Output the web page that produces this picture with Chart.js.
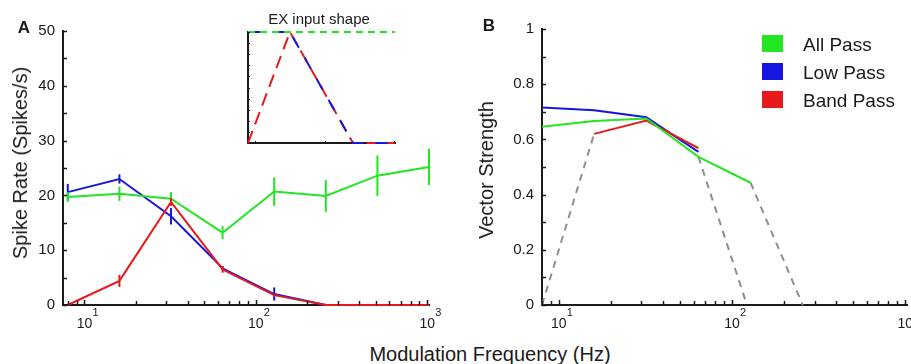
<!DOCTYPE html>
<html>
<head>
<meta charset="utf-8">
<script src="https://cdn.jsdelivr.net/npm/chart.js@4.4.1/dist/chart.umd.min.js"></script>
<style>
  body { margin: 0; width: 911px; height: 364px; background: #fff; position: relative; overflow: hidden;
         font-family: "Liberation Sans", Arial, sans-serif; color: #1a1a1a; }
  canvas { position: absolute; }
  .t { position: absolute; white-space: nowrap; line-height: 1; transform: translate(-50%, -50%); }
  .box { position: absolute; width: 21px; height: 17px; }
  .lg { position: absolute; font-size: 19px; line-height: 1; transform: translateY(-50%); white-space: nowrap; }
</style>
</head>
<body>
<canvas id="chartA" width="460" height="340" style="left:0;top:0"></canvas>
<canvas id="chartB" width="451" height="340" style="left:460px;top:0"></canvas>
<canvas id="inset" width="170" height="135" style="left:236px;top:20px"></canvas>

<div class="t" style="left:24px;top:27px;font-size:17px;font-weight:bold">A</div>
<div class="t" style="left:489px;top:25px;font-size:17px;font-weight:bold">B</div>
<div class="t" style="left:319px;top:18px;font-size:15px">EX input shape</div>
<div class="t" style="left:20px;top:163px;font-size:20px;transform:translate(-50%,-50%) rotate(-90deg)">Spike Rate (Spikes/s)</div>
<div class="t" style="left:486px;top:170px;font-size:20px;transform:translate(-50%,-50%) rotate(-90deg)">Vector Strength</div>
<div class="t" style="left:490px;top:354px;font-size:20px">Modulation Frequency (Hz)</div>

<div class="box" style="left:762px;top:35px;background:#22e622"></div>
<div class="lg" style="left:803px;top:44px">All Pass</div>
<div class="box" style="left:762px;top:63px;background:#1616e0"></div>
<div class="lg" style="left:803px;top:72px">Low Pass</div>
<div class="box" style="left:762px;top:91px;background:#e61a1a"></div>
<div class="lg" style="left:803px;top:100px">Band Pass</div>

<script>
// modulation frequencies (Hz)
const freqs = [8, 16, 32, 64, 128, 256, 512, 1024];

// panel A: spike rate (spikes/s) and half error bar
const rateAll  = [19.7, 20.3, 19.4, 13.2, 20.7, 19.9, 23.6, 25.2];
const errAll   = [0.9, 1.3, 1.2, 1.2, 2.6, 2.9, 3.7, 3.3];
const rateLow  = [20.6, 23.0, 16.2, 6.7, 2.0, 0, 0, 0];
const errLow   = [1.5, 0.85, 1.5, 0.4, 1.2, 0, 0, 0];
const rateBand = [0, 4.4, 18.8, 6.5, 1.8, 0, 0, 0];
const errBand  = [0, 1.1, 0.7, 0.6, 0.3, 0, 0, 0];

// panel B: vector strength
const vsAll  = [0.646, 0.667, 0.676, 0.537, 0.443, null, null, null];
const vsLow  = [0.716, 0.706, 0.680, 0.555, null, null, null, null];
const vsBand = [null, 0.620, 0.668, 0.568, null, null, null, null];
// grey dashed drops to zero
const dropFreq = [[8, 16], [64, 122], [128, 256]];
const dropVS   = [[0, 0.620], [0.537, 0], [0.443, 0]];

// inset: EX input shape
const insetFreq = [8, 32, 256, 1024];
const insetAll  = [1, 1, 1, 1];
const insetLow  = [1, 1, 0, 0];
const insetBand = [0, 1, 0, 0];

const decadeTicks = [10, 100, 1000];
const decadeExps = ['1', '2', '3'];

const GREEN = '#22e622', BLUE = '#1616e0', RED = '#e61a1a', GREY = '#8e8e8e', INK = '#1a1a1a';
const FONT = '"Liberation Sans", Arial, sans-serif';

function pts(xs, ys) {
  return xs.map((x, i) => ({ x: x, y: ys[i] }));
}

// matlab style inward ticks, error bars and 10^n labels
const axisMarks = {
  id: 'axisMarks',
  afterDatasetDraw(chart, args) {
    const ds = chart.data.datasets[args.index];
    if (!ds.errors) return;
    const ctx = chart.ctx, y = chart.scales.y;
    ctx.save();
    ctx.strokeStyle = ds.borderColor;
    ctx.lineWidth = 2;
    args.meta.data.forEach((el, i) => {
      const v = ds.data[i].y, e = ds.errors[i];
      if (v == null || !e) return;
      ctx.beginPath();
      ctx.moveTo(el.x, y.getPixelForValue(v - e));
      ctx.lineTo(el.x, y.getPixelForValue(v + e));
      ctx.stroke();
    });
    ctx.restore();
  },
  afterDraw(chart, args, opts) {
    const { ctx, chartArea: a, scales: { x, y } } = chart;
    ctx.save();
    ctx.strokeStyle = INK;
    ctx.lineWidth = opts.tickWidth;
    ctx.beginPath();
    for (let d = 1; d <= 1000; d *= 10) {
      for (let m = 1; m < 10; m++) {
        const v = d * m;
        if (v < x.min || v > x.max) continue;
        if (m > 1 && !opts.xMinor) continue;
        const px = Math.round(x.getPixelForValue(v)) + 0.5;
        const len = m === 1 ? opts.xMajorLen : opts.xMinorLen;
        ctx.moveTo(px, a.bottom);
        ctx.lineTo(px, a.bottom - len);
      }
    }
    for (let v = y.min; v <= y.max + 1e-9; v += opts.yStep) {
      const py = Math.round(y.getPixelForValue(v)) + 0.5;
      ctx.moveTo(a.left, py);
      ctx.lineTo(a.left + opts.yLen, py);
    }
    ctx.stroke();
    if (opts.labels) {
      ctx.fillStyle = INK;
      ctx.textBaseline = 'middle';
      decadeTicks.forEach((v, i) => {
        const px = x.getPixelForValue(v);
        ctx.font = '14px ' + FONT;
        ctx.textAlign = 'center';
        ctx.fillText('10', px, a.bottom + 19);
        ctx.font = '11px ' + FONT;
        ctx.textAlign = 'left';
        ctx.fillText(decadeExps[i], px + 8, a.bottom + 8);
      });
    }
    ctx.restore();
  }
};

function line(data, color, extra) {
  return Object.assign({
    data: data, borderColor: color, backgroundColor: color, borderWidth: 2,
    pointRadius: 0, tension: 0, spanGaps: false, clip: false
  }, extra || {});
}

function axes(xMin, yMax, yStep, yWidth, xHeight, showY, fmt) {
  return {
    x: {
      type: 'logarithmic', min: xMin, max: 1024,
      ticks: { display: false },
      grid: { display: false, drawTicks: false },
      border: { display: true, color: INK, width: 2 },
      afterFit: s => { s.height = xHeight; }
    },
    y: {
      min: 0, max: yMax,
      ticks: { display: showY, stepSize: yStep, padding: 8, color: INK, font: { family: FONT, size: 15 },
               callback: fmt || (v => v) },
      grid: { display: false, drawTicks: false },
      border: { display: true, color: INK, width: 2 },
      afterFit: s => { s.width = yWidth; }
    }
  };
}

const base = {
  responsive: false, animation: false, events: [],
  plugins: { legend: { display: false }, tooltip: { enabled: false } }
};

// panel A
new Chart(document.getElementById('chartA'), {
  type: 'line',
  data: {
    datasets: [
      line(pts(freqs, rateBand), RED, { errors: errBand }),
      line(pts(freqs, rateAll), GREEN, { errors: errAll }),
      line(pts(freqs, rateLow), BLUE, { errors: errLow })
    ]
  },
  options: Object.assign({}, base, {
    layout: { padding: { left: 0, top: 31, right: 31, bottom: 0 } },
    plugins: Object.assign({}, base.plugins, {
      axisMarks: { tickWidth: 1.5, xMinor: true, xMajorLen: 5, xMinorLen: 4, yStep: 5, yLen: 4, labels: true }
    }),
    scales: axes(7.5, 50, 10, 63, 35, true)
  }),
  plugins: [axisMarks]
});

// panel B
new Chart(document.getElementById('chartB'), {
  type: 'line',
  data: {
    datasets: [
      line(pts(freqs, vsAll), GREEN),
      line(pts(freqs, vsBand), RED),
      line(pts(freqs, vsLow), BLUE),
      ...dropFreq.map((f, i) => line(pts(f, dropVS[i]), GREY, { borderDash: [7, 6] }))
    ]
  },
  options: Object.assign({}, base, {
    layout: { padding: { left: 0, top: 29, right: 4, bottom: 0 } },
    plugins: Object.assign({}, base.plugins, {
      axisMarks: { tickWidth: 1.5, xMinor: true, xMajorLen: 5, xMinorLen: 4, yStep: 0.1, yLen: 4, labels: true }
    }),
    scales: axes(8, 1, 0.2, 82, 35, true, v => String(Math.round(v * 10) / 10))
  }),
  plugins: [axisMarks]
});

// inset (first dataset is drawn on top)
new Chart(document.getElementById('inset'), {
  type: 'line',
  data: {
    datasets: [
      line(pts(insetFreq, insetAll), GREEN, { borderDash: [7, 5] }),
      line(pts(insetFreq, insetLow), BLUE, { borderDash: [12, 12] }),
      line(pts(insetFreq, insetBand), RED, { borderDash: [13, 7] })
    ]
  },
  options: Object.assign({}, base, {
    layout: { padding: { left: 12, top: 12, right: 11, bottom: 12 } },
    plugins: Object.assign({}, base.plugins, {
      axisMarks: { tickWidth: 1, xMinor: false, xMajorLen: 2, xMinorLen: 0, yStep: 0.1, yLen: 2, labels: false }
    }),
    scales: axes(8, 1, 0.1, 0, 0, false)
  }),
  plugins: [axisMarks]
});
</script>
</body>
</html>
